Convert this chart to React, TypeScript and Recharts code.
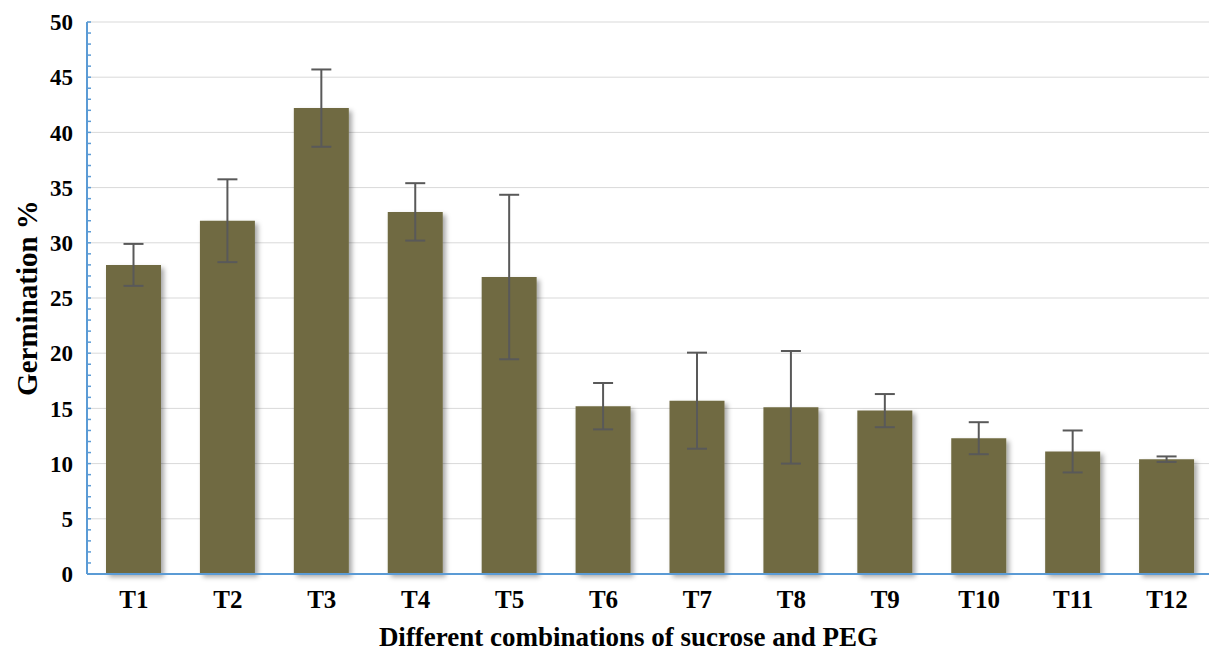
import { BarChart, Bar, XAxis, YAxis, CartesianGrid, ErrorBar } from "recharts";

// Germination % per treatment
const treatments = ["T1", "T2", "T3", "T4", "T5", "T6", "T7", "T8", "T9", "T10", "T11", "T12"];
const germination = [28.0, 32.0, 42.2, 32.8, 26.9, 15.2, 15.7, 15.1, 14.8, 12.3, 11.1, 10.4];
const stdErr = [1.9, 3.75, 3.5, 2.6, 7.45, 2.1, 4.35, 5.1, 1.5, 1.45, 1.9, 0.25];
const yTicks = Array.from({ length: 51 }, (_, i) => i); // minor tick every 1, label every 5

const data = treatments.map((t, i) => ({ name: t, value: germination[i], err: stdErr[i] }));

const FONT = "'Liberation Serif', 'Times New Roman', serif";
const AXIS_BLUE = "#5b9bd5";

// only draw grid lines on the labelled (every 5th) ticks
function GridLine(props: any) {
  if (props.index % 5 !== 0) return <g key={props.key} />;
  return <line key={props.key} x1={props.x1} y1={props.y1} x2={props.x2} y2={props.y2} stroke="#d9d9d9" strokeWidth={1} />;
}

export default function App() {
  return (
    <div style={{ position: "absolute", left: 0, top: 0, width: 1209, height: 654, overflow: "hidden", background: "#fff" }}>
      <BarChart
        width={1214}
        height={654}
        data={data}
        margin={{ top: 22, right: 0, bottom: 0, left: 0 }}
      >
        <defs>
          <filter id="barShadow" x="-20%" y="-20%" width="140%" height="140%">
            <feDropShadow dx="3" dy="3" stdDeviation="2.5" floodColor="#000" floodOpacity="0.35" />
          </filter>
        </defs>
        <CartesianGrid vertical={false} horizontal={(p: any) => <GridLine {...p} />} />
        <XAxis
          dataKey="name"
          height={80}
          tickLine={false}
          tickMargin={10}
          axisLine={{ stroke: AXIS_BLUE, strokeWidth: 2 }}
          tick={{ fill: "#000", fontFamily: FONT, fontWeight: 700, fontSize: 25 }}
          label={{
            value: "Different combinations of sucrose and PEG",
            position: "insideBottom",
            offset: 8,
            dx: -22,
            fill: "#000",
            fontFamily: FONT,
            fontWeight: 700,
            fontSize: 27,
          }}
        />
        <YAxis
          width={87}
          domain={[0, 50]}
          ticks={yTicks}
          interval={0}
          tickSize={-4}
          tickMargin={18}
          tickFormatter={(v: number) => (v % 5 === 0 ? String(v) : "")}
          tickLine={{ stroke: AXIS_BLUE, strokeWidth: 1.5 }}
          axisLine={{ stroke: AXIS_BLUE, strokeWidth: 2 }}
          tick={{ fill: "#000", fontFamily: FONT, fontWeight: 700, fontSize: 23 }}
          label={{
            value: "Germination %",
            angle: -90,
            position: "center",
            dx: -17,
            fill: "#000",
            fontFamily: FONT,
            fontWeight: 700,
            fontSize: 29,
          }}
        />
        <Bar dataKey="value" fill="#706b42" barSize={55} filter="url(#barShadow)" isAnimationActive={false}>
          <ErrorBar dataKey="err" width={10} stroke="#595959" strokeWidth={2} />
        </Bar>
      </BarChart>
    </div>
  );
}
